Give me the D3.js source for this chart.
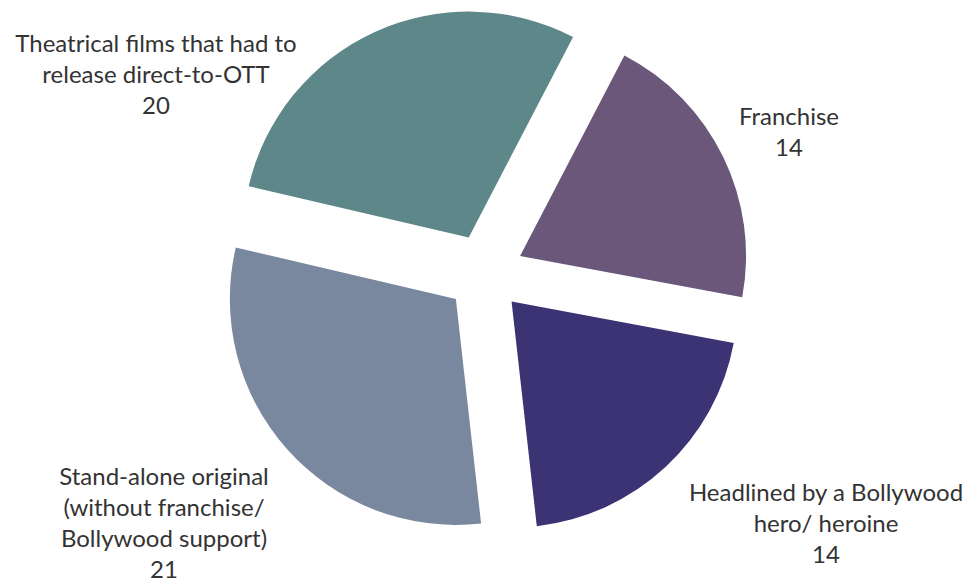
<!DOCTYPE html>
<html>
<head>
<meta charset="utf-8">
<script src="https://cdn.jsdelivr.net/npm/d3@7"></script>
<style>
  body { margin: 0; background: #fff; }
  text { font-family: Lato, "Open Sans", sans-serif; fill: #333; }
</style>
</head>
<body>
<div id="pie"></div>
<script>
// data
const categories = ["Franchise", "Headlined by a Bollywood hero/ heroine", "Stand-alone original (without franchise/ Bollywood support)", "Theatrical films that had to release direct-to-OTT"];
const values = [14, 14, 21, 20];
const labelLines = [
    ["Franchise"],
    ["Headlined by a Bollywood", "hero/ heroine"],
    ["Stand-alone original", "(without franchise/", "Bollywood support)"],
    ["Theatrical films that had to", "release direct-to-OTT"]
];
const colors = ["#6a5779", "#3b3373", "#7a889f", "#5e8789"];

// label anchor (centre x, first baseline y) for each slice
const labelAt = [[789, 125], [826, 501], [164, 485], [156, 52]];

const svg = d3.select("#pie")
    .append("svg")
    .attr("width", 970)
    .attr("height", 584);

const g = svg.append("g")
    .attr("transform", `translate(485, 273)`);

const pie = d3.pie()
    .sort(null)
    .startAngle(27.5 * Math.PI / 180)
    .endAngle(27.5 * Math.PI / 180 + 2 * Math.PI);

const arc = d3.arc()
    .innerRadius(0)
    .outerRadius(226);

const explode = 39;
const arcs = pie(values);

g.selectAll("path")
    .data(arcs)
    .join("path")
    .attr("d", arc)
    .attr("fill", (d, i) => colors[i])
    .attr("transform", d => {
        const a = (d.startAngle + d.endAngle) / 2;
        return `translate(${explode * Math.sin(a)}, ${-explode * Math.cos(a)})`;
    });

// labels
const lineH = 31;
arcs.forEach((d, i) => {
    const t = svg.append("text")
        .attr("text-anchor", "middle")
        .style("font-size", "24px");
    const lines = labelLines[i].concat([String(values[i])]);
    lines.forEach((s, j) => {
        t.append("tspan")
            .attr("x", labelAt[i][0])
            .attr("y", labelAt[i][1] + j * lineH)
            .text(s);
    });
});
</script>
</body>
</html>
